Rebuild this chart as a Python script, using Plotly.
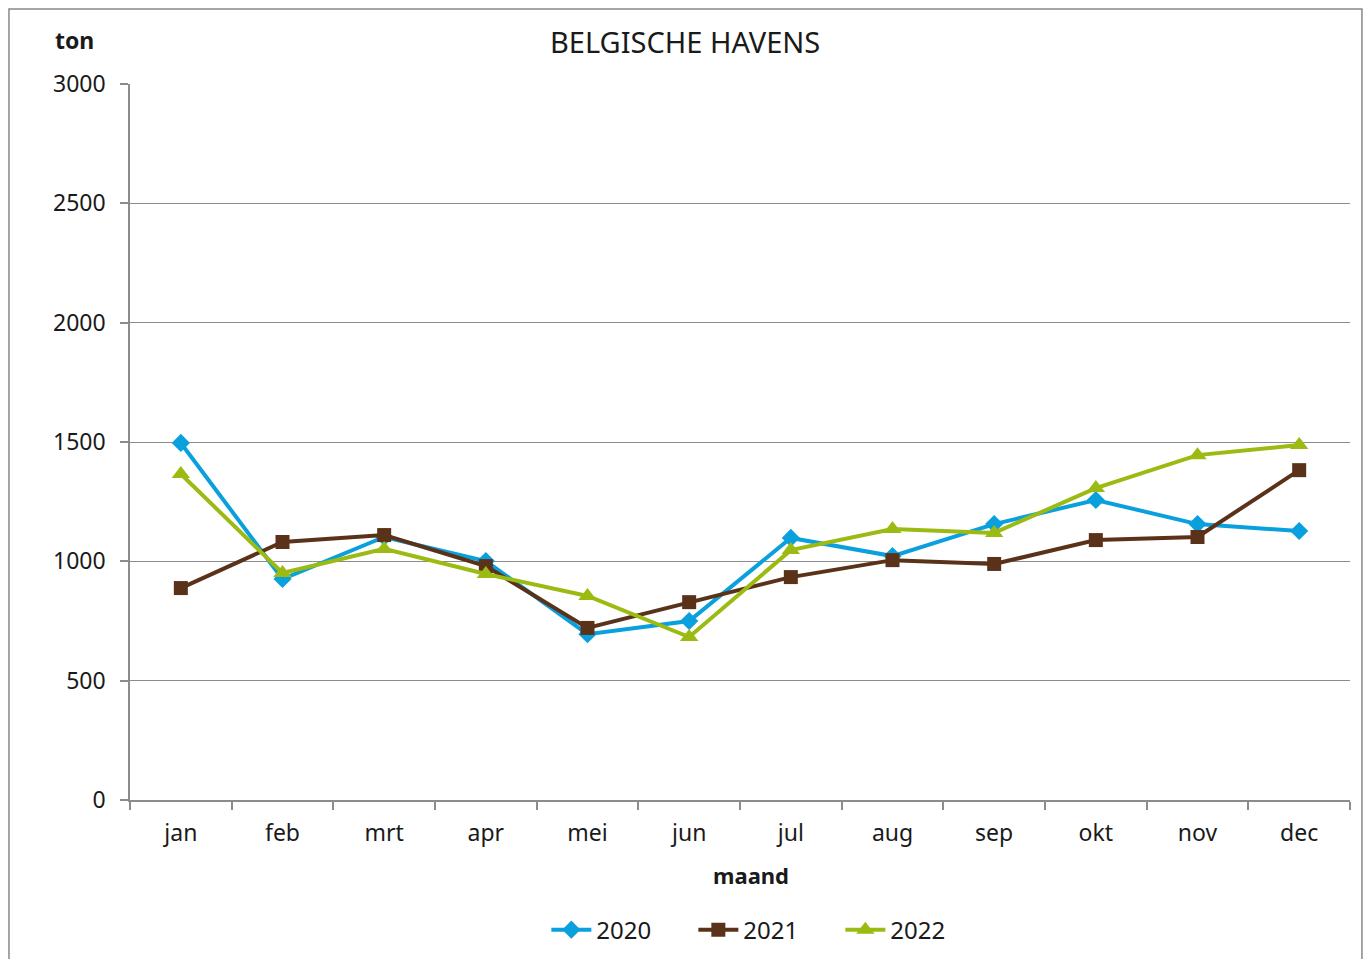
import plotly.graph_objects as go

# maanden en tonnage per jaar (Belgische havens)
maanden = ["jan", "feb", "mrt", "apr", "mei", "jun", "jul", "aug", "sep", "okt", "nov", "dec"]
ton_2020 = [1496, 926, 1102, 1001, 695, 750, 1098, 1022, 1156, 1257, 1156, 1127]
ton_2021 = [888, 1081, 1110, 980, 721, 829, 934, 1005, 989, 1089, 1102, 1382]
ton_2022 = [1366, 951, 1052, 947, 855, 683, 1047, 1135, 1119, 1307, 1445, 1487]

FONT = "Noto Sans"
GRID = "#8c8c8c"

fig = go.Figure()

series = [
    ("2020", ton_2020, "#0aa0dd", "diamond", 14),
    ("2021", ton_2021, "#5a3219", "square", 14),
    ("2022", ton_2022, "#9cbb12", "triangle-up", 16),
]
for naam, waarden, kleur, symbool, grootte in series:
    fig.add_trace(go.Scatter(
        x=maanden,
        y=waarden,
        name=naam,
        mode="lines+markers",
        line=dict(color=kleur, width=4),
        marker=dict(symbol=symbool, size=grootte, color=kleur),
    ))

fig.update_layout(
    width=1371,
    height=959,
    paper_bgcolor="white",
    plot_bgcolor="white",
    margin=dict(l=122, r=29, t=76, b=167),
    font=dict(family=FONT, size=22, color="#1a1a1a"),
    title=dict(text="BELGISCHE HAVENS", xref="paper", x=0.455, xanchor="center",
               y=0.9635, yanchor="middle",
               font=dict(family=FONT, size=29, color="#1a1a1a")),
    legend=dict(orientation="h", x=0.522, xanchor="center", y=-0.1816, yanchor="middle",
                font=dict(family=FONT, size=24), itemwidth=40, entrywidth=92,
                tracegroupgap=0),
    xaxis=dict(
        range=[-0.5, 11.5],
        showline=True, linecolor=GRID, linewidth=1.5,
        ticks="outside", tickson="boundaries", ticklen=8, tickcolor=GRID, tickwidth=1.5,
        ticklabelstandoff=12,
        tickfont=dict(family=FONT, size=23),
        showgrid=False,
    ),
    yaxis=dict(
        range=[0, 3000], dtick=500,
        showline=True, linecolor=GRID, linewidth=1.5,
        ticks="outside", ticklen=8, tickcolor=GRID, tickwidth=1.5,
        ticklabelstandoff=10,
        gridcolor=GRID, gridwidth=1.3,
        tickfont=dict(family=FONT, size=23),
        zeroline=False,
    ),
    annotations=[
        dict(text="<b>ton</b>", xref="paper", yref="paper", x=-0.0459, y=1.0615,
             showarrow=False, font=dict(family=FONT, size=23), xanchor="center",
             yanchor="middle"),
        dict(text="<b>maand</b>", xref="paper", yref="paper", x=0.509, y=-0.1047,
             showarrow=False, font=dict(family=FONT, size=22), xanchor="center",
             yanchor="middle"),
    ],
    shapes=[dict(type="rect", xref="paper", yref="paper", x0=-0.0992, x1=1.0098,
                 y0=-0.3, y1=1.1047, line=dict(color="#888888", width=1.5))],
)

fig.write_html("out.html")
